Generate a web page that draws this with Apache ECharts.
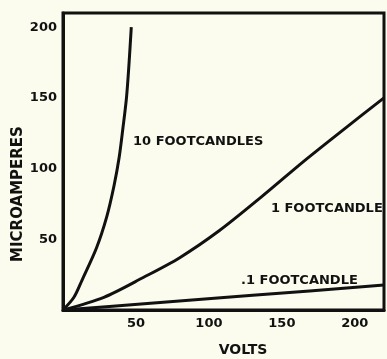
<!DOCTYPE html>
<html>
<head>
<meta charset="utf-8">
<script src="https://cdn.jsdelivr.net/npm/echarts@6/dist/echarts.min.js"></script>
<style>
  html, body { margin: 0; padding: 0; background: #fbfbee; }
  #chart { width: 387px; height: 359px; }
</style>
</head>
<body>
<div id="chart"></div>
<script>
// Photocell current (microamperes) against applied voltage at three illuminations
const tenFootcandles = [[0, 0], [7.5, 9], [13, 21], [23, 44], [30, 66], [35, 88], [38.5, 108], [41, 128], [43.5, 150], [45.3, 175], [46.8, 200]];
const oneFootcandle = [[0, 0], [28, 9], [55, 23], [80, 37], [107, 56], [136, 80], [166, 106], [194, 129], [220, 150]];
const tenthFootcandle = [[0, 0], [60, 4.8], [130, 10.4], [220, 17.6]];

const xTicks = [50, 100, 150, 200];
const yTicks = [50, 100, 150, 200];

// Curve captions, placed in data units (volts, microamperes)
const curveLabels = [
  { value: [48, 119], text: '10 FOOTCANDLES' },
  { value: [142.5, 72], text: '1 FOOTCANDLE' },
  { value: [122, 20.5], text: '.1 FOOTCANDLE' }
];

const ink = '#111111';
const font = 'DejaVu Sans';

const lineSeries = (data) => ({
  type: 'line',
  data: data,
  smooth: 0.3,
  showSymbol: false,
  lineStyle: { color: ink, width: 3 },
  silent: true
});

const chart = echarts.init(document.getElementById('chart'));
chart.setOption({
  backgroundColor: '#fbfbee',
  animation: false,
  grid: {
    left: 63, right: 2, top: 13, bottom: 49,
    show: true, borderColor: ink, borderWidth: 3
  },
  xAxis: {
    type: 'value', min: 0, max: 220, interval: 50,
    axisLine: { show: true, lineStyle: { color: ink, width: 3 } },
    axisTick: { show: false },
    splitLine: { show: false },
    axisLabel: {
      color: ink, fontFamily: font, fontWeight: 'bold', fontSize: 13, margin: 7,
      formatter: (v) => xTicks.includes(v) ? String(v) : ''
    }
  },
  yAxis: {
    type: 'value', min: 0, max: 210, interval: 50,
    axisLine: { show: true, lineStyle: { color: ink, width: 3 } },
    axisTick: { show: false },
    splitLine: { show: false },
    axisLabel: {
      color: ink, fontFamily: font, fontWeight: 'bold', fontSize: 13, margin: 6,
      formatter: (v) => yTicks.includes(v) ? String(v) : ''
    }
  },
  graphic: [
    {
      type: 'text', x: 243, y: 350,
      style: { text: 'VOLTS', fill: ink, font: 'bold 14px "DejaVu Sans"', align: 'center', verticalAlign: 'middle' }
    },
    {
      type: 'text', x: 18, y: 194, rotation: Math.PI / 2,
      style: { text: 'MICROAMPERES', fill: ink, font: 'bold 15px "DejaVu Sans"', align: 'center', verticalAlign: 'middle' }
    }
  ],
  series: [
    lineSeries(tenFootcandles),
    lineSeries(oneFootcandle),
    lineSeries(tenthFootcandle),
    {
      type: 'scatter',
      symbolSize: 0,
      silent: true,
      itemStyle: { opacity: 1 },
      data: curveLabels.map(d => ({ value: d.value, name: d.text })),
      label: {
        show: true, position: 'right', distance: 0,
        formatter: (p) => p.name,
        color: ink, fontFamily: font, fontWeight: 'bold', fontSize: 13
      }
    }
  ]
});
</script>
</body>
</html>
